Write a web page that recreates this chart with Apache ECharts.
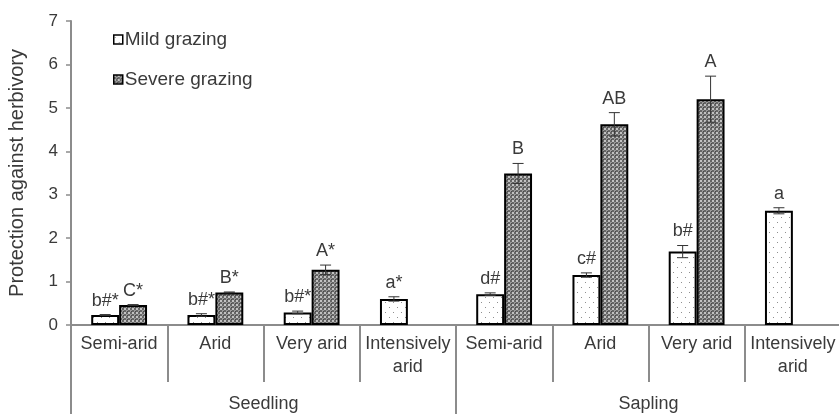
<!DOCTYPE html>
<html>
<head>
<meta charset="utf-8">
<script src="https://cdn.jsdelivr.net/npm/echarts@6/dist/echarts.min.js"></script>
<style>
  html, body { margin: 0; padding: 0; background: #fff; }
  #chart { width: 839px; height: 414px; }
</style>
</head>
<body>
<div id="chart"></div>
<script>
// Aridity levels, repeated for each life stage
const categories = ['Semi-arid', 'Arid', 'Very arid', 'Intensively\narid',
                    'Semi-arid', 'Arid', 'Very arid', 'Intensively\narid'];
const stages = ['Seedling', 'Sapling'];
const seriesNames = ['Mild grazing', 'Severe grazing'];

// Means and standard errors
const mildValues   = [0.23, 0.23, 0.29, 0.60, 0.71, 1.15, 1.69, 2.63];
const mildErrors   = [0.01, 0.03, 0.03, 0.05, 0.03, 0.05, 0.14, 0.07];
const severeValues = [0.46, 0.75, 1.27, null, 3.49, 4.62, 5.20, null];
const severeErrors = [0.01, 0.01, 0.11, null, 0.23, 0.27, 0.53, null];

// Significance letters
const mildLetters   = ['b#*', 'b#*', 'b#*', 'a*', 'd#', 'c#', 'b#', 'a'];
const severeLetters = ['C*', 'B*', 'A*', '', 'B', 'AB', 'A', ''];

const yTicks = [0, 1, 2, 3, 4, 5, 6, 7];

// Fill patterns for the bars
function dotPattern() {
  const c = document.createElement('canvas');
  c.width = 8; c.height = 10;
  const g = c.getContext('2d');
  g.fillStyle = '#ffffff';
  g.fillRect(0, 0, 8, 10);
  g.fillStyle = '#8f8f8f';
  g.fillRect(1, 2, 1, 1);
  g.fillRect(5, 7, 1, 1);
  return c;
}
function hatchPattern() {
  const c = document.createElement('canvas');
  c.width = 4; c.height = 4;
  const g = c.getContext('2d');
  g.fillStyle = '#666666';
  g.fillRect(0, 0, 4, 4);
  g.fillStyle = '#c2c2c2';
  g.fillRect(0, 0, 2, 2);
  g.fillStyle = '#9a9a9a';
  g.fillRect(2, 2, 2, 2);
  g.fillStyle = '#4a4a4a';
  g.fillRect(3, 3, 1, 1);
  return c;
}

const textColor = '#3a3a3a';
const axisColor = '#8c8c8c';
const fontFamily = 'Liberation Sans, Arial, sans-serif';

// Error bars plus letter, offset to sit over the left (side=-1) or right (side=+1) bar
function errorRenderer(side, letters) {
  return function (params, api) {
    const v = api.value(1);
    const e = api.value(2);
    if (v == null || isNaN(v)) return;
    const idx = api.value(0);
    const band = api.size([1, 0])[0];
    const cx = api.coord([idx, v])[0] + side * band * 0.145;
    const yTop = api.coord([idx, v + e])[1];
    const yBot = api.coord([idx, v - e])[1];
    const cap = 5.5;
    const style = { stroke: '#333', lineWidth: 1 };
    return {
      type: 'group',
      children: [
        { type: 'line', shape: { x1: cx, y1: yTop, x2: cx, y2: yBot }, style },
        { type: 'line', shape: { x1: cx - cap, y1: yTop, x2: cx + cap, y2: yTop }, style },
        { type: 'line', shape: { x1: cx - cap, y1: yBot, x2: cx + cap, y2: yBot }, style },
        {
          type: 'text',
          style: {
            x: cx, y: yTop - 5,
            text: letters[params.dataIndex],
            fill: textColor,
            font: '18px ' + fontFamily,
            align: 'center',
            verticalAlign: 'bottom'
          }
        }
      ]
    };
  };
}

const chart = echarts.init(document.getElementById('chart'));
chart.setOption({
  animation: false,
  backgroundColor: '#ffffff',
  textStyle: { fontFamily },
  grid: { left: 71, top: 21, width: 770, height: 304, containLabel: false, outerBoundsMode: 'none' },
  legend: {
    orient: 'vertical',
    left: 108, top: 25,
    itemWidth: 9, itemHeight: 9, itemGap: 21,
    icon: 'rect',
    itemStyle: { borderColor: '#000', borderWidth: 1.5 },
    textStyle: { color: textColor, fontSize: 19, padding: [0, 0, 0, -3] },
    data: seriesNames
  },
  xAxis: [
    {
      type: 'category',
      data: categories,
      axisLine: { show: true, lineStyle: { color: axisColor, width: 2 } },
      axisTick: { show: true, interval: 0, length: 57, lineStyle: { color: axisColor, width: 2 } },
      axisLabel: { interval: 0, margin: 8, color: textColor, fontSize: 18, lineHeight: 23 }
    },
    {
      type: 'category',
      position: 'bottom',
      data: stages,
      axisLine: { show: false },
      axisTick: { show: true, interval: 0, length: 90, lineStyle: { color: axisColor, width: 2 } },
      axisLabel: { interval: 0, margin: 70, color: textColor, fontSize: 18 }
    }
  ],
  yAxis: {
    type: 'value',
    min: yTicks[0], max: yTicks[yTicks.length - 1], interval: 1,
    name: 'Protection against herbivory',
    nameLocation: 'middle', nameGap: 44, nameRotate: 90,
    nameTextStyle: { color: textColor, fontSize: 20 },
    axisLine: { show: true, lineStyle: { color: axisColor, width: 2 } },
    axisTick: { show: true, length: 5, lineStyle: { color: axisColor, width: 1.5 } },
    axisLabel: { color: textColor, fontSize: 17, margin: 13 },
    splitLine: { show: false }
  },
  series: [
    {
      name: seriesNames[0], type: 'bar', xAxisIndex: 0,
      barGap: '0%', barCategoryGap: '42%',
      data: mildValues,
      itemStyle: { color: { image: dotPattern(), repeat: 'repeat' }, borderColor: '#000', borderWidth: 2 }
    },
    {
      name: seriesNames[1], type: 'bar', xAxisIndex: 0,
      barGap: '0%', barCategoryGap: '42%',
      data: severeValues,
      itemStyle: { color: { image: hatchPattern(), repeat: 'repeat' }, borderColor: '#000', borderWidth: 2 }
    },
    {
      type: 'custom', xAxisIndex: 0, z: 5,
      renderItem: errorRenderer(-1, mildLetters),
      encode: { x: 0, y: 1 },
      data: mildValues.map((v, i) => [i, v, mildErrors[i]])
    },
    {
      type: 'custom', xAxisIndex: 0, z: 5,
      renderItem: errorRenderer(1, severeLetters),
      encode: { x: 0, y: 1 },
      data: severeValues.map((v, i) => [i, v, severeErrors[i]])
    }
  ]
});
</script>
</body>
</html>
